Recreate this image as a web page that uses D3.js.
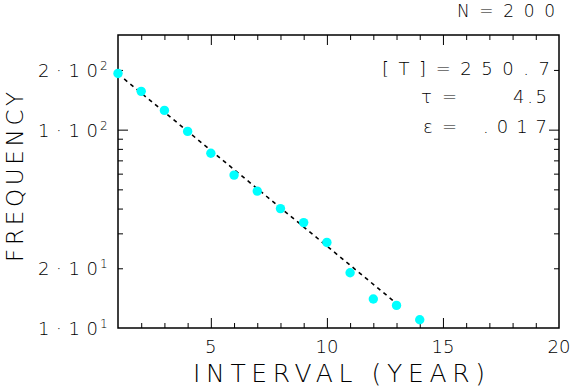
<!DOCTYPE html>
<html>
<head>
<meta charset="utf-8">
<script src="https://cdn.jsdelivr.net/npm/d3@7"></script>
<style>
  body { margin: 0; background: #fff; }
  text { font-family: "DejaVu Sans", sans-serif; font-weight: 200; fill: #000; }
</style>
</head>
<body>
<svg id="chart" width="572" height="389"></svg>
<script>
// survivor counts
const intervals = [1, 2, 3, 4, 5, 6, 7, 8, 9, 10, 11, 12, 13, 14]
const counts = [192, 156, 125, 98, 76, 59, 49, 40, 34, 27, 19, 14, 13, 11]

// fitted exponential, ends of the dashed line
const fitX = [1, 13]
const fitY = [191, 13.3]

const xMajor = [5, 10, 15]
const xMinor = [2, 3, 4, 6, 7, 8, 9, 11, 12, 13, 14, 16, 17, 18, 19]
const xLabels = [5, 10, 15, 20]
const yMajor = [100]
const yMinor = [20, 30, 40, 50, 60, 70, 80, 90, 200]
const yLabels = [
    {v: 10, m: "1", e: "1"},
    {v: 20, m: "2", e: "1"},
    {v: 100, m: "1", e: "2"},
    {v: 200, m: "2", e: "2"}
]

const plotLeft = 118, plotRight = 559, plotTop = 35, plotBottom = 328

const svg = d3.select("#chart")

const x = d3.scaleLinear().domain([1, 20]).range([plotLeft, plotRight])
const y = d3.scaleLog().domain([10, 300]).range([plotBottom, plotTop])

function noDomain(g) {
    g.select(".domain").remove()
    g.selectAll("line").attr("stroke-width", 1)
}

// ticks, all pointing into the box
function tickSet(values, size) {
    svg.append("g").attr("transform", `translate(0,${plotBottom})`)
        .call(d3.axisBottom(x).tickValues(values).tickSize(-size).tickFormat("")).call(noDomain)
    svg.append("g").attr("transform", `translate(0,${plotTop})`)
        .call(d3.axisTop(x).tickValues(values).tickSize(-size).tickFormat("")).call(noDomain)
}
tickSet(xMinor, 5)
tickSet(xMajor, 10)

function yTickSet(values, size) {
    svg.append("g").attr("transform", `translate(${plotLeft},0)`)
        .call(d3.axisLeft(y).tickValues(values).tickSize(-size).tickFormat("")).call(noDomain)
    svg.append("g").attr("transform", `translate(${plotRight},0)`)
        .call(d3.axisRight(y).tickValues(values).tickSize(-size).tickFormat("")).call(noDomain)
}
yTickSet(yMinor, 5)
yTickSet(yMajor, 10)

// frame
svg.append("rect")
    .attr("x", plotLeft).attr("y", plotTop)
    .attr("width", plotRight - plotLeft).attr("height", plotBottom - plotTop)
    .attr("fill", "none").attr("stroke", "#000").attr("stroke-width", 1.5)

// dashed fit
const line = d3.line().x(d => x(d[0])).y(d => y(d[1]))
svg.append("path")
    .datum(fitX.map((d, i) => [d, fitY[i]]))
    .attr("d", line)
    .attr("fill", "none")
    .attr("stroke", "#000")
    .attr("stroke-width", 1.6)
    .attr("stroke-dasharray", "4,4")

// points
svg.selectAll("circle.pt")
    .data(intervals)
    .enter().append("circle")
    .attr("class", "pt")
    .attr("cx", d => x(d))
    .attr("cy", (d, i) => y(counts[i]))
    .attr("r", 4.7)
    .attr("fill", "#00ffff")

function label(px, py, str, size, len, anchor) {
    const t = svg.append("text")
        .attr("x", px).attr("y", py)
        .attr("text-anchor", anchor || "start")
        .style("font-size", size + "px")
        .text(str)
    if (len) t.attr("textLength", len).attr("lengthAdjust", "spacing")
    return t
}

// x tick labels
xLabels.forEach(d => label(x(d), 353, d, 18, null, "middle"))

// y tick labels  m·10^e
yLabels.forEach(d => {
    const ty = y(d.v)
    label(98, ty + 7, d.m + "\u00b710", 18, 60, "end")
    label(100, ty, d.e, 12)
})

// axis titles
label(193, 382, "INTERVAL (YEAR)", 25, 292)
label(0, 0, "FREQUENCY", 23, 170)
    .attr("transform", "translate(23,262)rotate(-90)")

// annotations
label(457, 17, "N=200", 17, 98)
label(382, 75, "[T]=250.7", 18, 168)
label(421, 103, "\u03c4=", 18, 36)
label(547, 103, "4.5", 18, 34, "end")
label(423, 133, "\u03b5=", 18, 34)
label(547, 133, ".017", 18, 64, "end")
</script>
</body>
</html>
